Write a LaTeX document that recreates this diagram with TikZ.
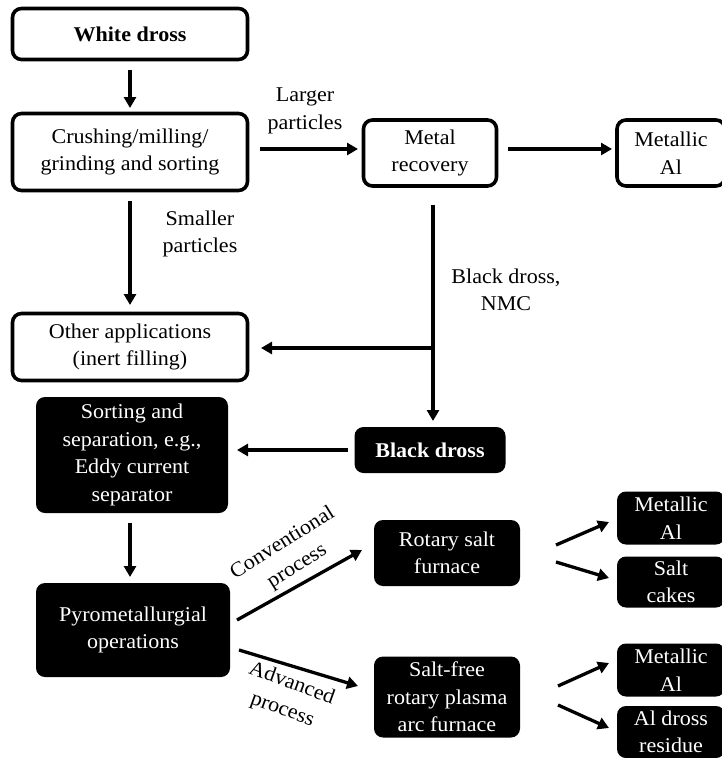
\documentclass[tikz,border=0pt]{standalone}
\usepackage{fontspec}
\setmainfont[FakeStretch=1.05]{Liberation Serif}
\usetikzlibrary{arrows.meta}
\begin{document}
\begin{tikzpicture}[x=1pt,y=-1pt,
  every node/.style={font=\fontsize{21}{27.5}\selectfont, align=center},
  wbox/.style={draw, line width=3.6pt, rounded corners=9pt, inner sep=0pt},
  bbox/.style={fill=black, text=white, rounded corners=9pt, inner sep=0pt},
  arr/.style={line width=3.3pt, -{Triangle[length=11pt,width=12pt]}},
  lbl/.style={inner sep=0pt}]
\useasboundingbox (0,0) rectangle (722,758);
% white boxes
\node[wbox, minimum width=235pt, minimum height=51pt] (white) at (130,34) {\textbf{White dross}};
\node[wbox, minimum width=235pt, minimum height=77pt] (crush) at (130,152) {Crushing/milling/\\grinding and sorting};
\node[wbox, minimum width=133pt, minimum height=66pt] (metal) at (430,153) {Metal\\recovery};
\node[wbox, minimum width=108pt, minimum height=66pt] (mal) at (671,153) {Metallic\\Al};
\node[wbox, minimum width=235pt, minimum height=67pt] (other) at (130,347) {Other applications\\(inert filling)};
% black boxes
\node[bbox, minimum width=151pt, minimum height=46pt] (black) at (430,450) {\textbf{Black dross}};
\node[bbox, minimum width=192pt, minimum height=116pt] (sort) at (132,455) {Sorting and\\separation, e.g.,\\Eddy current\\separator};
\node[bbox, minimum width=194pt, minimum height=94pt] (pyro) at (133,630) {Pyrometallurgial\\operations};
\node[bbox, minimum width=146pt, minimum height=66pt] (rotary) at (447,553) {Rotary salt\\furnace};
\node[bbox, minimum width=146pt, minimum height=81pt] (plasma) at (447,697) {Salt-free\\rotary plasma\\arc furnace};
\node[bbox, minimum width=108pt, minimum height=53pt] (mal1) at (671,518) {Metallic\\Al};
\node[bbox, minimum width=108pt, minimum height=51pt] (salt) at (671,582) {Salt\\cakes};
\node[bbox, minimum width=108pt, minimum height=53pt] (mal2) at (671,670) {Metallic\\Al};
\node[bbox, minimum width=108pt, minimum height=52pt] (resid) at (671,732) {Al dross\\residue};
% coordinates for connectors
\coordinate (c1) at (130,70);
\coordinate (c2) at (130,108);
\coordinate (c3) at (260,149);
\coordinate (c4) at (358,149);
\coordinate (c5) at (508,149);
\coordinate (c6) at (612,149);
\coordinate (c7) at (130,201);
\coordinate (c8) at (130,305);
\coordinate (c9) at (433,205);
\coordinate (c10) at (433,421);
\coordinate (c11) at (433,348);
\coordinate (c12) at (261,348);
\coordinate (c13) at (348,450);
\coordinate (c14) at (237,450);
\coordinate (c15) at (130,523);
\coordinate (c16) at (130,577);
\coordinate (c17) at (237,620);
\coordinate (c18) at (362,550);
\coordinate (c19) at (239,650);
\coordinate (c20) at (358,686);
\coordinate (r1) at (556,545);
\coordinate (r2) at (609,522);
\coordinate (r3) at (556,562);
\coordinate (r4) at (609,578);
\coordinate (p1) at (558,686);
\coordinate (p2) at (609,663);
\coordinate (p3) at (558,705);
\coordinate (p4) at (609,728);
% connectors
\draw[arr] (c1) -- (c2);
\draw[arr] (c3) -- (c4);
\draw[arr] (c5) -- (c6);
\draw[arr] (c7) -- (c8);
\draw[arr] (c9) -- (c10);
\draw[arr] (c11) -- (c12);
\draw[arr] (c13) -- (c14);
\draw[arr] (c15) -- (c16);
\draw[arr] (c17) -- (c18);
\draw[arr] (c19) -- (c20);
\draw[arr] (r1) -- (r2);
\draw[arr] (r3) -- (r4);
\draw[arr] (p1) -- (p2);
\draw[arr] (p3) -- (p4);
% labels
\node[lbl] (l1) at (305,111) {Larger\\particles};
\node[lbl] (l2) at (200,234) {Smaller\\particles};
\node[lbl] (l3) at (506,290) {Black dross,\\NMC};
\node[lbl, rotate=32] (l4) at (290,555) {Conventional\\process};
\node[lbl, rotate=-20] (l5) at (287,697) {Advanced\\process};
\end{tikzpicture}
\end{document}
